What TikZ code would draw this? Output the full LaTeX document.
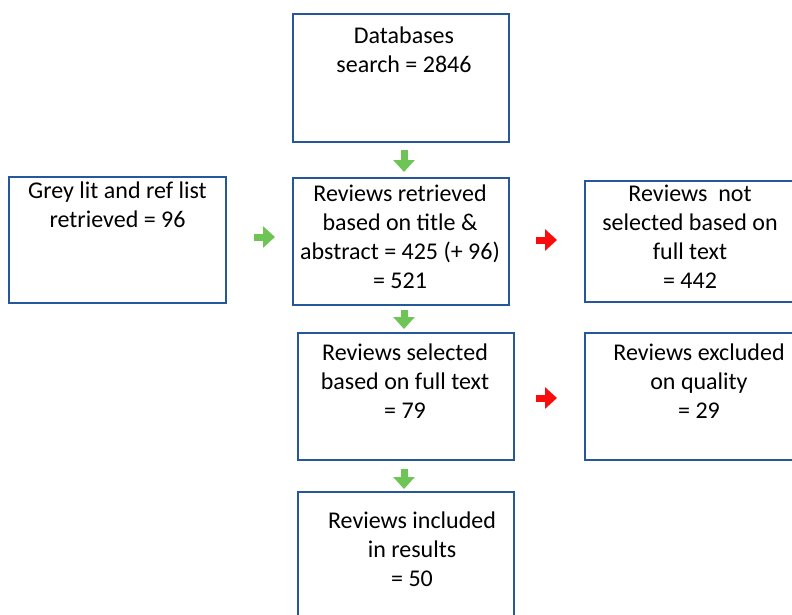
\documentclass[tikz,border=0pt]{standalone}
\usepackage{fontspec}
\setmainfont{Carlito}
\usetikzlibrary{arrows.meta}

\definecolor{boxblue}{RGB}{36,88,154}
\definecolor{flowgreen}{RGB}{110,196,84}
\definecolor{flowred}{RGB}{250,12,12}

\tikzset{
    stagebox/.style = {draw=boxblue, line width=2.4pt, minimum width=216pt, inner sep=0pt},
    stagetext/.style = {anchor=north, align=center, inner sep=0pt,
        font=\fontsize{24}{29}\selectfont, execute at begin node=\strut},
    greenarrow/.style = {flowgreen, line width=7pt, -{Triangle[width=21pt,length=12pt]}},
    redarrow/.style = {flowred, line width=7pt, -{Triangle[width=21pt,length=12pt]}}
}

\begin{document}
\begin{tikzpicture}[x=1pt, y=-1pt]
    \useasboundingbox (0,0) rectangle (792,615);
    \clip (0,0) rectangle (792,615);

    % boxes
    \node[stagebox, minimum height=128pt] (db) at (401,78) {};
    \node[stagebox, minimum width=217pt, minimum height=126pt] (grey) at (117.5,240) {};
    \node[stagebox, minimum height=127pt] (ret) at (401,241.5) {};
    \node[stagebox, minimum height=121pt] (notsel) at (693,241.5) {};
    \node[stagebox, minimum height=127pt] (sel) at (406,396.5) {};
    \node[stagebox, minimum width=230pt, minimum height=127pt] (excl) at (700,396.5) {};
    \node[stagebox, minimum height=140pt] (incl) at (406,562) {};

    % texts
    \node[stagetext] (dbtext) at (404,26.5) {Databases\\search = 2846};
    \node[stagetext] (greytext) at (117.5,181.5) {Grey lit and ref list\\retrieved = 96};
    \node[stagetext] (rettext) at (400,184.5) {Reviews retrieved\\based on title \&\\abstract = 425 (+ 96)\\= 521};
    \node[stagetext] (notseltext) at (690,184.5) {Reviews\ \ not\\selected based on\\full text\\= 442};
    \node[stagetext] (seltext) at (405,343.5) {Reviews selected\\based on full text\\= 79};
    \node[stagetext] (excltext) at (699,343.5) {Reviews excluded\\on quality\\= 29};
    \node[stagetext] (incltext) at (412,511.5) {Reviews included\\in results\\= 50};

    % arrows
    \coordinate (g1a) at (404,150);  \coordinate (g1b) at (404,172);
    \coordinate (g2a) at (404,310);  \coordinate (g2b) at (404,329);
    \coordinate (g3a) at (404,469);  \coordinate (g3b) at (404,489);
    \coordinate (g4a) at (254,237);  \coordinate (g4b) at (275,237);
    \coordinate (r1a) at (536,240);  \coordinate (r1b) at (557,240);
    \coordinate (r2a) at (536,398);  \coordinate (r2b) at (557,398);

    \draw[greenarrow] (g1a) -- (g1b);
    \draw[greenarrow] (g2a) -- (g2b);
    \draw[greenarrow] (g3a) -- (g3b);
    \draw[greenarrow] (g4a) -- (g4b);
    \draw[redarrow] (r1a) -- (r1b);
    \draw[redarrow] (r2a) -- (r2b);

\end{tikzpicture}
\end{document}
